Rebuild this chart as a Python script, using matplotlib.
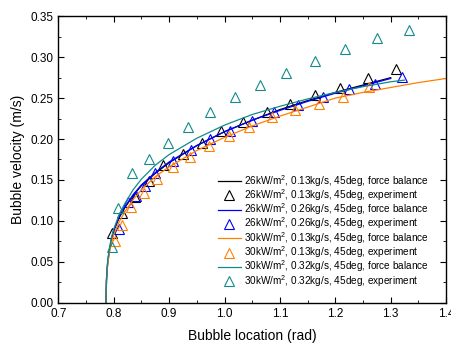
import matplotlib
matplotlib.use("Agg")
import matplotlib.pyplot as plt
from matplotlib.ticker import MultipleLocator

plt.rcParams["font.family"] = ["Liberation Sans", "DejaVu Sans"]
plt.rcParams["mathtext.fontset"] = "custom"
plt.rcParams["mathtext.rm"] = "Liberation Sans"

# force balance curves
fb_x = [0.786, 0.787, 0.789, 0.792, 0.796, 0.80, 0.81, 0.82, 0.835, 0.85,
        0.875, 0.90, 0.95, 1.00, 1.05, 1.10, 1.15, 1.20, 1.25, 1.30]
black_fb_y = [0.0, 0.028, 0.048, 0.063, 0.077, 0.088, 0.104, 0.116, 0.131, 0.143,
              0.158, 0.171, 0.192, 0.209, 0.223, 0.236, 0.247, 0.257, 0.266, 0.275]
blue_fb_y = [0.0, 0.028, 0.048, 0.063, 0.077, 0.088, 0.105, 0.117, 0.132, 0.144,
             0.159, 0.172, 0.192, 0.209, 0.223, 0.235, 0.246, 0.256, 0.265, 0.274]
orange_fb_x = fb_x + [1.35, 1.40]
orange_fb_y = [0.0, 0.027, 0.046, 0.060, 0.073, 0.083, 0.099, 0.111, 0.126, 0.138,
               0.154, 0.166, 0.186, 0.202, 0.216, 0.228, 0.239, 0.250, 0.257, 0.263,
               0.269, 0.274]
teal_fb_x = fb_x + [1.325]
teal_fb_y = [0.0, 0.030, 0.051, 0.066, 0.080, 0.090, 0.108, 0.121, 0.138, 0.151,
             0.168, 0.181, 0.201, 0.217, 0.230, 0.240, 0.249, 0.257, 0.264, 0.270,
             0.272]

# experiments
black_ex_x = [0.7975, 0.8144, 0.8385, 0.8638, 0.8896, 0.9246, 0.9589, 0.9944,
              1.0341, 1.0763, 1.1184, 1.1642, 1.2093, 1.2587, 1.3087]
black_ex_y = [0.0856, 0.110, 0.1296, 0.1487, 0.1683, 0.1817, 0.1948, 0.2099,
              0.2213, 0.2331, 0.2429, 0.2539, 0.2628, 0.2742, 0.2861]
blue_ex_x = [0.809, 0.825, 0.840, 0.856, 0.875, 0.9065, 0.939, 0.9745, 1.009,
             1.0498, 1.0895, 1.1335, 1.177, 1.224, 1.272, 1.321]
blue_ex_y = [0.0896, 0.123, 0.130, 0.143, 0.158, 0.173, 0.1866, 0.1997, 0.210,
             0.2225, 0.2335, 0.242, 0.2518, 0.2608, 0.2668, 0.2763]
orange_ex_x = [0.8024, 0.8144, 0.8312, 0.8547, 0.8787, 0.9065, 0.9377, 0.9721,
               1.0076, 1.045, 1.0853, 1.1269, 1.1702, 1.2141, 1.2605]
orange_ex_y = [0.0758, 0.095, 0.1166, 0.1337, 0.1512, 0.1663, 0.1785, 0.1919,
               0.2037, 0.2152, 0.2266, 0.2355, 0.2429, 0.2518, 0.2632]
teal_ex_x = [0.7963, 0.8084, 0.8331, 0.8632, 0.8975, 0.9336, 0.9745, 1.0191,
             1.0648, 1.1112, 1.1630, 1.2178, 1.2744, 1.3334]
teal_ex_y = [0.0676, 0.1153, 0.158, 0.176, 0.1956, 0.2152, 0.2335, 0.2514,
             0.2657, 0.2803, 0.2958, 0.3097, 0.3231, 0.3329]

labels = ["26kW/m$^2$, 0.13kg/s, 45deg", "26kW/m$^2$, 0.26kg/s, 45deg",
          "30kW/m$^2$, 0.13kg/s, 45deg", "30kW/m$^2$, 0.32kg/s, 45deg"]
colors = ["black", "#0000ff", "#ff8000", "#138a8a"]

fig = plt.figure(figsize=(4.52, 3.43), dpi=100)
ax = fig.add_axes([0.129, 0.1175, 0.858, 0.835])

series = [
    (fb_x, black_fb_y, black_ex_x, black_ex_y),
    (fb_x, blue_fb_y, blue_ex_x, blue_ex_y),
    (orange_fb_x, orange_fb_y, orange_ex_x, orange_ex_y),
    (teal_fb_x, teal_fb_y, teal_ex_x, teal_ex_y),
]
for (lx, ly, ex, ey), lab, c in zip(series, labels, colors):
    ax.plot(lx, ly, color=c, lw=0.9, label=lab + ", force balance")
    ax.plot(ex, ey, ls="none", marker="^", ms=6.5, mfc="none", mec=c, mew=0.8,
            label=lab + ", experiment")

ax.set_xlim(0.7, 1.4)
ax.set_ylim(0, 0.35)
ax.xaxis.set_major_locator(MultipleLocator(0.1))
ax.xaxis.set_minor_locator(MultipleLocator(0.05))
ax.yaxis.set_major_locator(MultipleLocator(0.05))
ax.yaxis.set_minor_locator(MultipleLocator(0.025))
ax.xaxis.set_major_formatter(plt.FuncFormatter(lambda v, p: "%.1f" % v))
ax.yaxis.set_major_formatter(plt.FuncFormatter(lambda v, p: "%.2f" % v))
ax.tick_params(which="both", direction="in", top=True, right=True, labelsize=8.5)
ax.tick_params(which="major", length=4)
ax.tick_params(which="minor", length=2.5)
for s in ax.spines.values():
    s.set_linewidth(1.0)

ax.set_xlabel("Bubble location (rad)", fontsize=10, labelpad=7)
ax.set_ylabel("Bubble velocity (m/s)", fontsize=10, labelpad=4)

ax.legend(loc="lower right", bbox_to_anchor=(0.965, 0.035), frameon=False,
          fontsize=7.2, handlelength=2.3, handletextpad=0.3, labelspacing=-0.15,
          borderaxespad=0, numpoints=1)

fig.savefig("out.png", dpi=100)
